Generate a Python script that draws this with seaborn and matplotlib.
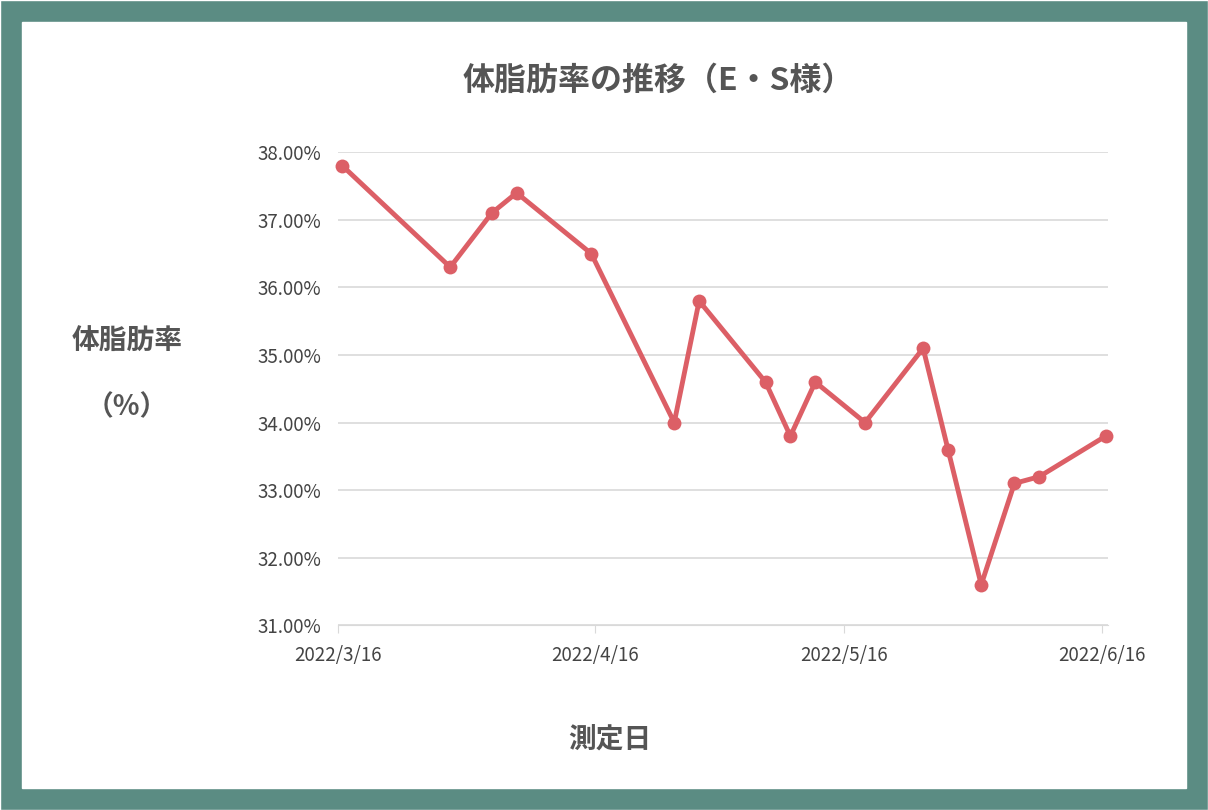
import matplotlib
matplotlib.use("Agg")
import matplotlib.pyplot as plt
from matplotlib.patches import Rectangle
import seaborn as sns
import pandas as pd
from matplotlib.ticker import FuncFormatter

dates = ["2022-03-16","2022-03-29","2022-04-03","2022-04-06","2022-04-15","2022-04-25","2022-04-28",
         "2022-05-06","2022-05-09","2022-05-12","2022-05-18","2022-05-25","2022-05-28","2022-06-01",
         "2022-06-05","2022-06-08","2022-06-16"]
values = [37.8,36.3,37.1,37.4,36.5,34.0,35.8,34.6,33.8,34.6,34.0,35.1,33.6,31.6,33.1,33.2,33.8]
tick_dates = ["2022-03-16","2022-04-16","2022-05-16","2022-06-16"]
tick_labels = ["2022/3/16","2022/4/16","2022/5/16","2022/6/16"]

sns.set_style("white")
plt.rcParams['font.family'] = ['Noto Sans CJK JP', 'DejaVu Sans']

df = pd.DataFrame({"date": pd.to_datetime(dates) + pd.Timedelta(hours=12), "value": values})
fig = plt.figure(figsize=(12.08, 8.10), dpi=100)
fig.patches.append(Rectangle((0,0),1,1,transform=fig.transFigure,facecolor="#5b8c83",zorder=-2))
fig.patches.append(Rectangle((22/1208,22/810),1-44/1208,1-44/810,transform=fig.transFigure,facecolor="white",zorder=-1))

ax = fig.add_axes([0.28, 0.228, 0.637, 0.584])
sns.lineplot(data=df, x="date", y="value", ax=ax, color="#dc5f66", linewidth=3.5,
             marker="o", markersize=10, markeredgewidth=0, clip_on=False)
ax.set_ylim(31, 38)
ax.set_yticks(range(31, 39))
ax.yaxis.set_major_formatter(FuncFormatter(lambda v, p: f"{v:.2f}%"))
ax.set_xlim(pd.Timestamp("2022-03-16"), pd.Timestamp("2022-06-16 18:00"))
ax.set_xticks(pd.to_datetime(tick_dates))
ax.set_xticklabels(tick_labels)
ax.grid(axis="y", color="#d9d9d9", linewidth=1.2)
for s in ["top","right","left"]:
    ax.spines[s].set_visible(False)
ax.spines["bottom"].set_color("#d9d9d9")
ax.tick_params(axis="x", length=6, direction="out", bottom=True, labelsize=13.5, colors="#d9d9d9", labelcolor="#444444", pad=8)
ax.tick_params(axis="y", length=0, labelsize=13.5, colors="#444444", pad=12)
ax.set_xlabel(""); ax.set_ylabel("")

fig.text(0.545, 0.9, "体脂肪率の推移（E・S様）", ha="center", va="center", fontsize=23, fontweight="bold", color="#555555")
fig.text(0.105, 0.578, "体脂肪率", ha="center", va="center", fontsize=20, fontweight="bold", color="#555555")
fig.text(0.105, 0.497, "（%）", ha="center", va="center", fontsize=20, fontweight="bold", color="#555555")
fig.text(0.505, 0.087, "測定日", ha="center", va="center", fontsize=20, fontweight="bold", color="#555555")
fig.savefig("out.png", dpi=100)
